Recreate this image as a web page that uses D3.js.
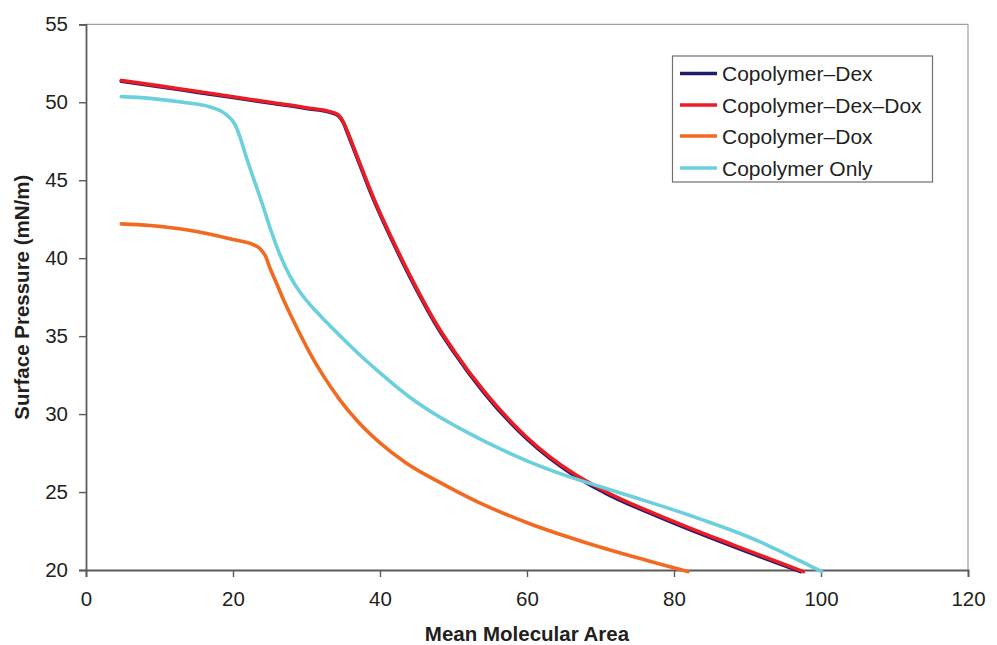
<!DOCTYPE html>
<html>
<head>
<meta charset="utf-8">
<script src="https://cdn.jsdelivr.net/npm/d3@7"></script>
<style>
  body { margin: 0; background: #fff; }
  svg { display: block; font-family: "Liberation Sans", Arial, sans-serif; }
</style>
</head>
<body>
<svg id="chart" width="997" height="645"></svg>
<script>
// ---- Data ----
const seriesNames = ["Copolymer\u2013Dex", "Copolymer\u2013Dex\u2013Dox", "Copolymer\u2013Dox", "Copolymer Only"];
const seriesColors = ["#1f1c6e", "#ec1c24", "#f26a21", "#6ccfdc"];

const dexX   = [4.8, 10, 15, 20, 25, 30, 33.2, 34.3, 35.0, 35.6, 36.3, 37.7, 39.0, 40.2, 42.7, 45.4, 47.9, 50.0, 54.1, 60.0, 66.3, 70.4, 79.0, 88.1, 97.2];
const dexY   = [51.35, 51.0, 50.65, 50.3, 49.95, 49.6, 49.35, 49.15, 48.7, 48.0, 47.15, 45.45, 43.9, 42.6, 40.1, 37.6, 35.5, 34.0, 31.4, 28.4, 26.1, 25.0, 23.2, 21.5, 19.9];

const dexDoxX = [4.8, 10, 15, 20, 25, 30, 33.2, 34.3, 35.0, 35.6, 36.3, 37.7, 39.0, 40.2, 42.7, 45.4, 47.9, 50.0, 54.1, 60.0, 66.3, 70.4, 79.0, 88.1, 97.6];
const dexDoxY = [51.4, 51.05, 50.7, 50.35, 50.0, 49.65, 49.4, 49.2, 48.75, 48.1, 47.25, 45.55, 44.0, 42.7, 40.2, 37.7, 35.6, 34.1, 31.5, 28.5, 26.2, 25.1, 23.3, 21.6, 19.9];

const doxX = [4.8, 8.7, 13.2, 16.9, 20.0, 22.8, 23.7, 24.4, 25.0, 26.0, 27.0, 28.67, 30.48, 32.3, 34.56, 36.83, 40.0, 43.6, 48.2, 52.7, 55.0, 60.2, 67.7, 74.5, 81.9];
const doxY = [42.2, 42.1, 41.86, 41.54, 41.2, 40.85, 40.6, 40.15, 39.4, 38.3, 37.2, 35.55, 33.9, 32.45, 30.9, 29.6, 28.15, 26.85, 25.6, 24.5, 24.0, 23.0, 21.8, 20.85, 19.9];

const onlyX = [4.8, 8.7, 13.2, 16.9, 19.1, 20.3, 21.0, 21.8, 22.8, 23.9, 25.0, 26.4, 27.8, 29.3, 30.9, 32.7, 34.6, 37.0, 39.5, 44.0, 48.0, 52.0, 56.0, 60.0, 65.0, 69.9, 75.0, 79.0, 84.0, 88.1, 91.5, 94.9, 97.5, 100.1];
const onlyY = [50.36, 50.25, 50.0, 49.7, 49.2, 48.55, 47.7, 46.5, 45.1, 43.6, 42.0, 40.2, 38.8, 37.7, 36.8, 35.9, 35.0, 33.9, 32.85, 31.1, 29.85, 28.8, 27.85, 27.0, 26.1, 25.35, 24.6, 24.0, 23.2, 22.5, 21.85, 21.1, 20.5, 19.9];

const xTicks = [0, 20, 40, 60, 80, 100, 120];
const yTicks = [20, 25, 30, 35, 40, 45, 50, 55];
const xTitle = "Mean Molecular Area";
const yTitle = "Surface Pressure (mN/m)";

const seriesData = [
  d3.zip(dexX, dexY),
  d3.zip(dexDoxX, dexDoxY),
  d3.zip(doxX, doxY),
  d3.zip(onlyX, onlyY)
];

// ---- Layout ----
const svg = d3.select("#chart");
const pL = 86, pR = 968, pT = 24.3, pB = 570;

const x = d3.scaleLinear().domain([0, 120]).range([pL, pR]);
const y = d3.scaleLinear().domain([20, 55]).range([pB, pT]);

// plot frame (top & right light lines)
svg.append("line").attr("x1", pL).attr("x2", pR).attr("y1", pT).attr("y2", pT)
  .attr("stroke", "#a0a0a0").attr("stroke-width", 1.2);
svg.append("line").attr("x1", pR).attr("x2", pR).attr("y1", pT).attr("y2", pB)
  .attr("stroke", "#a0a0a0").attr("stroke-width", 1.2);

// axes
const xAxis = svg.append("g").attr("transform", `translate(0,${pB})`)
  .call(d3.axisBottom(x).tickValues(xTicks).tickSizeOuter(0).tickSize(7).tickPadding(14));
const yAxis = svg.append("g").attr("transform", `translate(${pL},0)`)
  .call(d3.axisLeft(y).tickValues(yTicks).tickSizeOuter(0).tickSize(7).tickPadding(11));

[xAxis, yAxis].forEach(g => {
  g.select(".domain").attr("stroke", "#5a5a5a").attr("stroke-width", 1.8);
  g.selectAll(".tick line").attr("stroke", "#5a5a5a").attr("stroke-width", 1.4);
  g.selectAll(".tick text").attr("fill", "#231f20").attr("font-size", 20.5)
    .attr("font-family", "'Liberation Sans', Arial, sans-serif");
});

// lines
const line = d3.line().x(d => x(d[0])).y(d => y(d[1])).curve(d3.curveMonotoneX);
svg.append("g").selectAll("path").data(seriesData).join("path")
  .attr("d", line)
  .attr("fill", "none")
  .attr("stroke", (d, i) => seriesColors[i])
  .attr("stroke-width", 3.6)
  .attr("stroke-linejoin", "round")
  .attr("stroke-linecap", "round");

// axis titles
svg.append("text").attr("x", (pL + pR) / 2).attr("y", 641)
  .attr("text-anchor", "middle").attr("font-weight", "bold").attr("font-size", 20.5)
  .attr("fill", "#231f20").text(xTitle);
svg.append("text").attr("transform", `translate(29,${(pT + pB) / 2}) rotate(-90)`)
  .attr("text-anchor", "middle").attr("font-weight", "bold").attr("font-size", 20.5)
  .attr("fill", "#231f20").text(yTitle);

// legend
const lg = svg.append("g");
lg.append("rect").attr("x", 672.5).attr("y", 56).attr("width", 260).attr("height", 126)
  .attr("fill", "#fff").attr("stroke", "#707070").attr("stroke-width", 1.2);
const rowY = [73.5, 105, 136, 168];
seriesNames.forEach((name, i) => {
  lg.append("line").attr("x1", 680).attr("x2", 717).attr("y1", rowY[i]).attr("y2", rowY[i])
    .attr("stroke", seriesColors[i]).attr("stroke-width", 3.6);
  lg.append("text").attr("x", 722).attr("y", rowY[i]).attr("dy", "0.36em")
    .attr("font-size", 21).attr("fill", "#231f20").text(name);
});
</script>
</body>
</html>
